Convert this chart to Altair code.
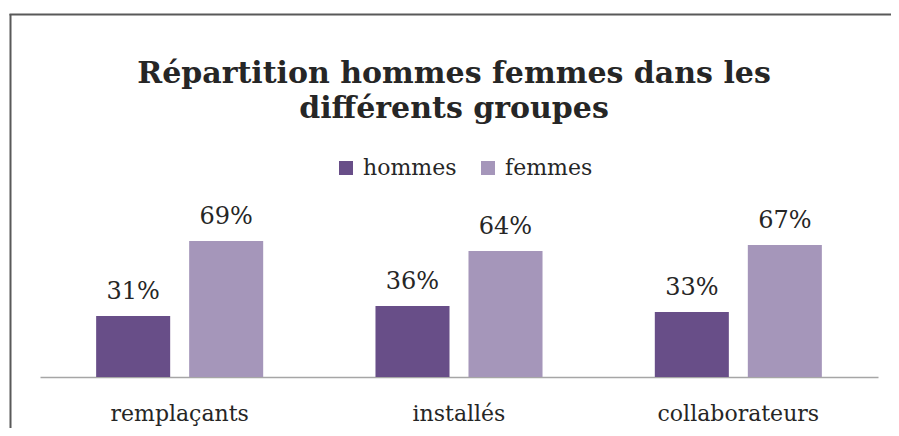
import altair as alt
import pandas as pd

groups = ["remplaçants", "installés", "collaborateurs"]
series = ["hommes", "femmes"]
hommes = [31, 36, 33]
femmes = [69, 64, 67]
colors = ["#684E88", "#A596BA"]
title_lines = ["Répartition hommes femmes dans les", "différents groupes"]

rows = []
for g, h, f in zip(groups, hommes, femmes):
    rows.append({"groupe": g, "sexe": "hommes", "pct": h})
    rows.append({"groupe": g, "sexe": "femmes", "pct": f})
df = pd.DataFrame(rows)
df["label"] = df["pct"].astype(str) + "%"

FONT = "DejaVu Serif"
TXT = "#262626"

x = alt.X(
    "groupe:N", sort=groups,
    scale=alt.Scale(paddingInner=0.402, paddingOuter=0.201),
    axis=alt.Axis(title=None, labelAngle=0, ticks=False, domainColor="#A6A6A6",
                  domainWidth=1.5, labelFont=FONT, labelFontSize=22, labelColor=TXT,
                  labelPadding=26, grid=False),
)
xo = alt.XOffset("sexe:N", sort=series, scale=alt.Scale(paddingInner=0.204))
y = alt.Y("pct:Q", scale=alt.Scale(domain=[0, 100]), axis=None)

bars = alt.Chart(df).mark_bar().encode(
    x=x, xOffset=xo, y=y,
    color=alt.Color(
        "sexe:N", sort=series,
        scale=alt.Scale(domain=series, range=colors),
        legend=alt.Legend(title=None, orient="none", legendX=295, legendY=-23,
                          direction="horizontal", symbolType="square", symbolSize=196,
                          symbolStrokeWidth=0, labelFont=FONT, labelFontSize=22,
                          labelColor=TXT, columnPadding=20, labelOffset=6),
    ),
)

labels = alt.Chart(df).mark_text(dy=-17, baseline="alphabetic", fontSize=24,
                                 font=FONT, color=TXT).encode(
    x=x, xOffset=xo, y=y, text="label:N"
)

frame_df = pd.DataFrame({"k": [0]})
left_edge = alt.Chart(frame_df).mark_rule(color="#595959", strokeWidth=2).encode(
    x=alt.value(-29.5), y=alt.value(-166), y2=alt.value(300)
)
top_edge = alt.Chart(frame_df).mark_rule(color="#595959", strokeWidth=2).encode(
    x=alt.value(-30.5), x2=alt.value(900), y=alt.value(-165.5)
)

chart = alt.layer(bars, labels, left_edge, top_edge).properties(
    width=838, height=197,
    autosize=alt.AutoSizeParams(type="none"),
    padding={"left": 32, "top": 172, "right": 13, "bottom": 51},
    title=alt.Title(title_lines, font=FONT, fontSize=30, fontWeight="bold", color=TXT,
                    lineHeight=35, anchor="middle", offset=-111, dx=-5),
).configure(background="white").configure_view(strokeWidth=0)

chart.save("out.html", embed_options={"renderer": "svg", "actions": False})
